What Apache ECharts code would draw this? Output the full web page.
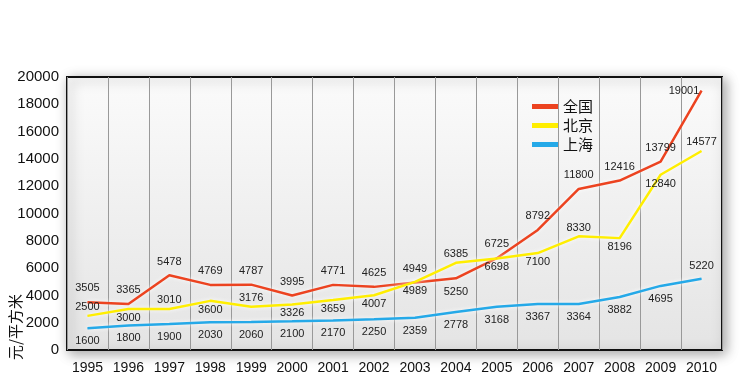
<!DOCTYPE html>
<html>
<head>
<meta charset="utf-8">
<script src="https://cdn.jsdelivr.net/npm/echarts@6/dist/echarts.min.js"></script>
<style>
  html, body { margin: 0; padding: 0; background: #fff; }
  #chart { width: 750px; height: 375px; }
</style>
</head>
<body>
<div id="chart"></div>
<script>
// Average housing price, yuan per square metre, 1995-2010
const years = ["1995", "1996", "1997", "1998", "1999", "2000", "2001", "2002",
  "2003", "2004", "2005", "2006", "2007", "2008", "2009", "2010"];
const national = [3505, 3365, 5478, 4769, 4787, 3995, 4771, 4625,
  4949, 5250, 6725, 8792, 11800, 12416, 13799, 19001];
const beijing = [2500, 3000, 3010, 3600, 3176, 3326, 3659, 4007,
  4989, 6385, 6698, 7100, 8330, 8196, 12840, 14577];
const shanghai = [1600, 1800, 1900, 2030, 2060, 2100, 2170, 2250,
  2359, 2778, 3168, 3367, 3364, 3882, 4695, 5220];
const seriesNames = ["全国", "北京", "上海"];

// where each point's label sits relative to the line
const nationalLabelPos = national.map((v, i) => (i === 9 ? "bottom" : i === 15 ? "left" : "top"));
const beijingLabelPos = ["top", "bottom", "top", "bottom", "top", "bottom", "bottom", "bottom",
  "bottom", "top", "bottom", "bottom", "top", "bottom", "bottom", "top"];
const shanghaiLabelPos = shanghai.map((v, i) => (i === 15 ? "top" : "bottom"));

const FONT = "'Liberation Sans', Arial, Helvetica, sans-serif";
const CJK = "'Noto Sans CJK SC', sans-serif";

function lineSeries(name, values, positions, color, gap) {
  return {
    name,
    type: "line",
    symbol: "circle",
    symbolSize: 0.5,
    showSymbol: true,
    color,
    itemStyle: { color },
    lineStyle: {
      width: 2.5, color,
      shadowColor: "rgba(255,255,255,0.95)", shadowBlur: 4,
    },
    label: { show: true, fontSize: 11, fontFamily: FONT, color: "#222", distance: gap },
    labelLayout: { hideOverlap: false },
    data: values.map((v, i) => {
      const label = { position: positions[i] };
      // the last national label hugs the line's end, up and to the left
      if (positions[i] === "left") { label.distance = 2; label.offset = [0, -6]; }
      return { value: v, label };
    }),
  };
}

const chart = echarts.init(document.getElementById("chart"));
chart.setOption({
  animation: false,
  backgroundColor: "#fff",
  grid: {
    show: true, left: 67, right: 28, top: 77, bottom: 23,
    backgroundColor: new echarts.graphic.LinearGradient(0, 0, 0, 1, [
      { offset: 0, color: "#fbfbfb" }, { offset: 1, color: "#e4e4e4" },
    ]),
    borderColor: "#111", borderWidth: 2,
    shadowColor: "rgba(0,0,0,0.35)", shadowBlur: 12, shadowOffsetX: 3, shadowOffsetY: 3,
  },
  legend: {
    orient: "vertical", left: 527, top: 94,
    icon: "rect", itemWidth: 26, itemHeight: 5, itemGap: 4,
    textStyle: { fontSize: 15, fontFamily: CJK, color: "#111", lineHeight: 14 },
    data: seriesNames,
  },
  graphic: [{
    type: "text", x: 15, y: 327, rotation: Math.PI / 2,
    style: {
      text: "元/平方米", align: "center", verticalAlign: "middle",
      font: "15px " + CJK, fill: "#111",
    },
  }],
  xAxis: {
    type: "category",
    data: years,
    boundaryGap: true,
    axisLine: { show: false },
    axisTick: { show: false },
    axisLabel: { interval: 0, fontSize: 14, fontFamily: FONT, color: "#111", margin: 11 },
    splitLine: { show: true, interval: 0, lineStyle: { color: "#999", width: 1 } },
  },
  yAxis: {
    type: "value",
    min: 0, max: 20000, interval: 2000,
    axisLine: { show: false },
    axisTick: { show: false },
    axisLabel: {
      fontSize: 15, fontFamily: FONT, color: "#111", margin: 8,
      formatter: (v) => String(v),
    },
    splitLine: { show: false },
  },
  series: [
    lineSeries(seriesNames[0], national, nationalLabelPos, "#ec4320", 8),
    lineSeries(seriesNames[1], beijing, beijingLabelPos, "#ffee00", 3),
    lineSeries(seriesNames[2], shanghai, shanghaiLabelPos, "#25a9e8", 7),
  ],
});
</script>
</body>
</html>
